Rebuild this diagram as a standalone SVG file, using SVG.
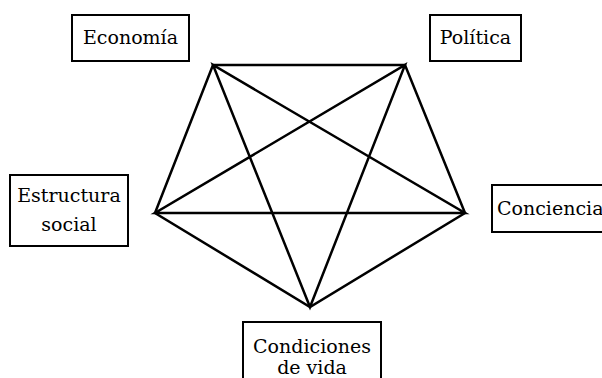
<svg xmlns="http://www.w3.org/2000/svg" width="602" height="378" viewBox="0 0 602 378">
<style>
.box{fill:#fff;stroke:#000;stroke-width:2}
.t{font-family:'DejaVu Serif',serif;font-size:19px;fill:#000;text-anchor:middle}
.s{text-anchor:start}
.ln{fill:none;stroke:#000;stroke-width:2.5;stroke-linejoin:miter}
</style>
<rect width="602" height="378" fill="#fff"/>
<g id="connectors">
<polygon class="ln" points="213,65 405,65 465,213 310,307 155,213"/>
<polygon class="ln" points="213,65 310,307 405,65 155,213 465,213"/>
</g>
<g id="economia"><rect class="box" x="72" y="15" width="117" height="46"/><text class="t" x="130.5" y="44">Economía</text></g>
<g id="politica"><rect class="box" x="430" y="15" width="91" height="46"/><text class="t" x="475.5" y="44">Política</text></g>
<g id="estructura"><rect class="box" x="10" y="175" width="118" height="71"/><text class="t" x="69" y="202">Estructura</text><text class="t" x="69" y="231">social</text></g>
<g id="conciencia"><rect class="box" x="492" y="185" width="116" height="47"/><text class="t s" x="497" y="215">Conciencia</text></g>
<g id="condiciones"><rect class="box" x="243" y="322" width="138" height="62"/><text class="t" x="312" y="353">Condiciones</text><text class="t" x="312" y="374">de vida</text></g>
</svg>
